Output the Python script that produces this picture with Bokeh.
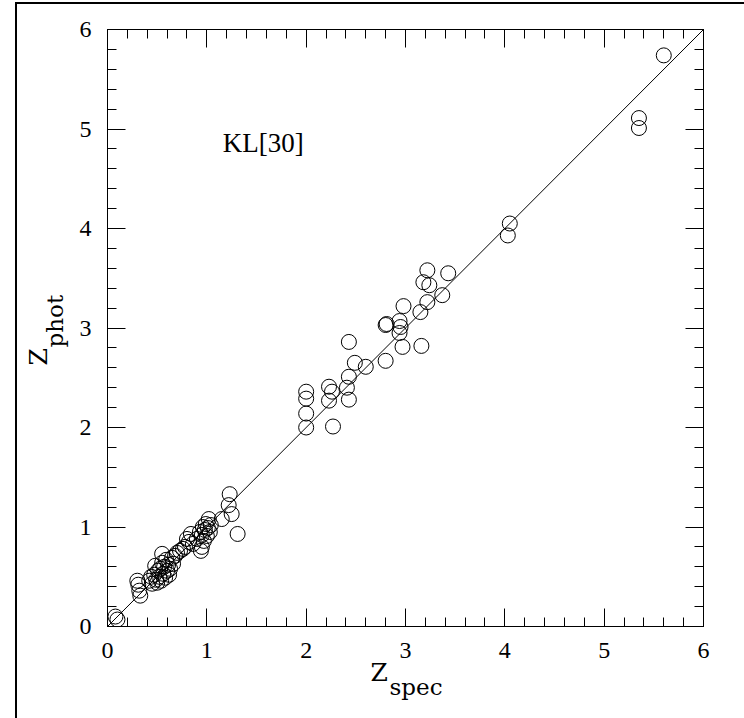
from bokeh.plotting import figure
from bokeh.models import Range1d, LinearAxis, Label, FixedTicker, Title, InlineStyleSheet
from bokeh.embed import file_html
from bokeh.resources import INLINE

# ---- data ----
z_spec = [0.08, 0.10,
          0.30, 0.31, 0.32, 0.33,
          0.42, 0.44, 0.45, 0.47, 0.48, 0.49, 0.50, 0.51, 0.52, 0.53, 0.54, 0.55, 0.55, 0.56,
          0.57, 0.58, 0.59, 0.60, 0.61, 0.62, 0.63, 0.65, 0.66, 0.68, 0.70, 0.73, 0.76, 0.78,
          0.80, 0.82, 0.84, 0.86, 0.90, 0.93, 0.95, 0.95, 0.96, 0.97, 0.98, 0.99, 1.00, 1.01,
          1.02, 1.03, 1.04, 0.94, 1.15, 1.22, 1.23, 1.25, 1.31,
          2.00, 2.00, 2.00, 2.00, 2.23, 2.26, 2.23, 2.27, 2.43, 2.49, 2.43, 2.41, 2.43, 2.60,
          2.80, 2.80, 2.81, 2.94, 2.95, 2.94, 2.97, 2.98, 3.15, 3.16, 3.22, 3.37, 3.18, 3.24,
          3.22, 3.43, 4.03, 4.05, 5.35, 5.35, 5.60]
z_phot = [0.10, 0.07,
          0.46, 0.42, 0.36, 0.31,
          0.46, 0.50, 0.43, 0.52, 0.61, 0.47, 0.44, 0.56, 0.50, 0.58, 0.46, 0.73, 0.64, 0.53,
          0.60, 0.49, 0.67, 0.56, 0.62, 0.52, 0.58, 0.69, 0.63, 0.71, 0.74, 0.76, 0.78, 0.80,
          0.88, 0.85, 0.93, 0.83, 0.88, 0.95, 0.80, 0.92, 1.00, 0.86, 0.97, 1.03, 0.91, 0.99,
          1.08, 0.95, 1.02, 0.76, 1.08, 1.22, 1.33, 1.13, 0.93,
          2.36, 2.29, 2.14, 2.00, 2.41, 2.36, 2.27, 2.01, 2.86, 2.65, 2.51, 2.40, 2.28, 2.61,
          2.67, 3.03, 3.04, 3.07, 3.01, 2.95, 2.81, 3.22, 3.16, 2.82, 3.26, 3.33, 3.46, 3.43,
          3.58, 3.55, 3.93, 4.05, 5.11, 5.01, 5.74]
line_x = [0, 6]
line_y = [0, 6]
major_ticks = [0, 1, 2, 3, 4, 5, 6]
minor_ticks = [round(i * 0.2, 1) for i in range(31)]
annotation_text = "KL[30]"
x_label_main, x_label_sub = "Z", "spec"
y_label_main, y_label_sub = "Z", "phot"

FONT = "Liberation Serif"
LFONT = "DejaVu Serif"

frame_css = InlineStyleSheet(css="""
:host { position: relative; }
:host::after {
  content: "";
  position: absolute;
  left: 15px; top: 2px; right: 0px; bottom: 0px;
  border-left: 2px solid black;
  border-top: 2px solid black;
  pointer-events: none;
  z-index: 10;
}
""")

p = figure(width=744, height=718, x_range=Range1d(0, 6), y_range=Range1d(0, 6),
           output_backend="svg", toolbar_location=None,
           min_border_left=107, min_border_right=41, min_border_top=29, min_border_bottom=92,
           background_fill_color="white", border_fill_color="white",
           stylesheets=[frame_css])
p.grid.visible = False
p.outline_line_color = "black"
p.outline_line_width = 1

ticker = FixedTicker(ticks=major_ticks, minor_ticks=minor_ticks)

def style_axis(ax, labels=True):
    ax.ticker = ticker
    ax.axis_line_color = "black"
    ax.axis_line_width = 1
    ax.major_tick_in = 18
    ax.major_tick_out = 0
    ax.minor_tick_in = 9
    ax.minor_tick_out = 0
    ax.major_tick_line_color = "black"
    ax.minor_tick_line_color = "black"
    if labels:
        ax.major_label_text_font = FONT
        ax.major_label_text_font_size = "24px"
        ax.major_label_text_color = "black"
    else:
        ax.major_label_text_font_size = "0px"
        ax.major_label_text_alpha = 0

style_axis(p.xaxis[0])
style_axis(p.yaxis[0])
p.xaxis[0].major_label_standoff = 16
p.yaxis[0].major_label_standoff = 16

ax_r = LinearAxis()
style_axis(ax_r, labels=False)
p.add_layout(ax_r, "right")
ax_t = LinearAxis()
style_axis(ax_t, labels=False)
p.add_layout(ax_t, "above")

p.line(line_x, line_y, line_color="black", line_width=1)
p.scatter(z_spec, z_phot, marker="circle", size=15, fill_color=None,
          line_color="black", line_width=1)

p.add_layout(Label(x=1.16, y=4.86, text=annotation_text, text_font=FONT,
                   text_font_size="27px", text_color="black", text_align="left",
                   text_baseline="alphabetic"))

# axis labels with subscripts, as titles in the side panels
p.add_layout(Title(text=x_label_main, align="left", offset=263, standoff=-9,
                   text_font=LFONT, text_font_size="25px", text_font_style="normal",
                   text_color="black"), "below")
p.add_layout(Title(text=x_label_sub, align="left", offset=282, standoff=-22,
                   text_font=LFONT, text_font_size="23px", text_font_style="normal",
                   text_color="black"), "below")
p.add_layout(Title(text=y_label_sub, align="left", offset=279, standoff=18,
                   text_font=LFONT, text_font_size="23px", text_font_style="normal",
                   text_color="black"), "left")
p.add_layout(Title(text=y_label_main, align="left", offset=261, standoff=-44,
                   text_font=LFONT, text_font_size="25px", text_font_style="normal",
                   text_color="black"), "left")

open("out.html", "w").write(file_html(p, INLINE))
